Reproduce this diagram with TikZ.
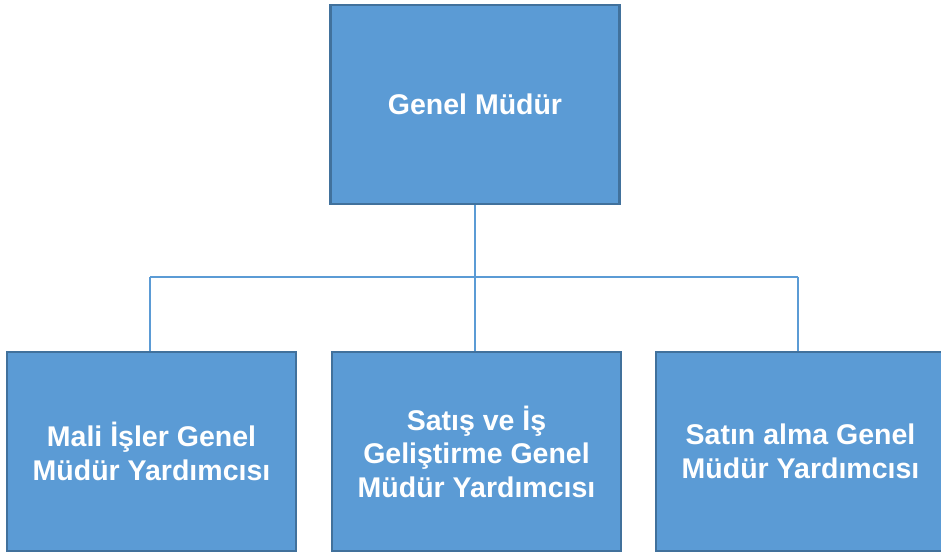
\documentclass[tikz,border=0pt]{standalone}
\usepackage{fontspec}
\setmainfont{Liberation Sans}
\definecolor{boxfill}{HTML}{5B9BD5}
\definecolor{boxedge}{HTML}{41719C}
\definecolor{linecol}{HTML}{5B9BD5}
\tikzset{
  orgbox/.style={rectangle, draw=boxedge, line width=2.6pt, fill=boxfill,
    minimum width=289pt, minimum height=199pt, inner sep=0pt,
    align=center, text=white,
    font=\fontsize{28.5pt}{33.5pt}\selectfont\bfseries},
  conn/.style={draw=linecol, line width=1.6pt}
}
\begin{document}
\begin{tikzpicture}[x=1pt,y=1pt]
\useasboundingbox (0,0) rectangle (941,554);
\node[orgbox] (gm) at (475,449.5) {Genel Müdür};
\node[orgbox] (mali) at (151.5,102.5) {Mali İşler Genel\\Müdür Yardımcısı};
\node[orgbox] (satis) at (476.5,102.5) {Satış ve İş\\Geliştirme Genel\\Müdür Yardımcısı};
\node[orgbox] (satin) at (800.5,102.5) {Satın alma Genel\\Müdür Yardımcısı};
\coordinate (hbar) at (475,277);
\coordinate (jl) at (150,277);
\coordinate (jm) at (475,277);
\coordinate (jr) at (798,277);
\draw[conn] (gm.south) -- (jm);
\draw[conn] (jl) -- (jr);
\draw[conn] (jl) -- (jl |- mali.north);
\draw[conn] (jm) -- (jm |- satis.north);
\draw[conn] (jr) -- (jr |- satin.north);
\end{tikzpicture}
\end{document}
